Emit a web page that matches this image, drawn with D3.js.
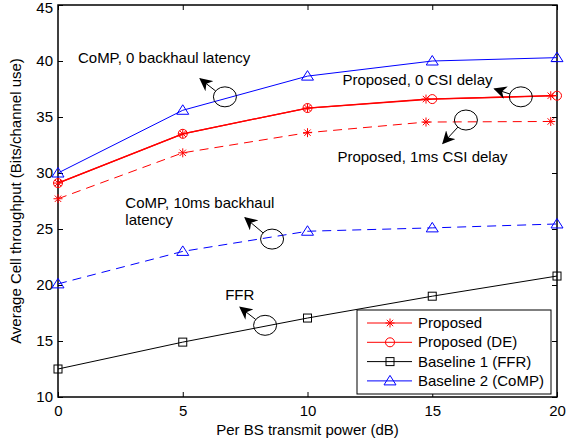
<!DOCTYPE html>
<html>
<head>
<meta charset="utf-8">
<script src="https://cdn.jsdelivr.net/npm/d3@7"></script>
<style>
  body { margin: 0; background: #fff; }
  text { font-family: "Liberation Sans", Arial, sans-serif; }
</style>
</head>
<body>
<div id="chart"></div>
<script>
// chart data
var xTicks = [0, 5, 10, 15, 20];
var yTicks = [10, 15, 20, 25, 30, 35, 40, 45];
var powerX = [0, 5, 10, 15, 20];
var proposedX = [0, 5, 10, 14.75, 19.75];   // star markers sit a bit left of the circles
var proposed = [29.1, 33.5, 35.8, 36.6, 36.9];
var proposedDE = [29.1, 33.5, 35.8, 36.6, 36.9];
var proposed1ms = [27.7, 31.8, 33.6, 34.55, 34.6];
var ffr = [12.5, 14.9, 17.05, 19.0, 20.8];
var comp0 = [30.0, 35.6, 38.65, 40.0, 40.3];
var comp10 = [20.1, 23.0, 24.8, 25.1, 25.45];
var legendNames = ["Proposed", "Proposed (DE)", "Baseline 1 (FFR)", "Baseline 2 (CoMP)"];

// callouts: text lines, text anchor point, ellipse centre, arrow tip (data units)
var callouts = [
  {lines: ["CoMP, 0 backhaul latency"], tx: 0.8, ty: 39.8, ex: 6.69, ey: 36.8, ax: 5.7, ay: 38.4},
  {lines: ["Proposed, 0 CSI delay"], tx: 11.4, ty: 37.9, ex: 18.55, ey: 36.8, ax: 17.5, ay: 37.5},
  {lines: ["Proposed, 1ms CSI delay"], tx: 11.2, ty: 30.98, ex: 16.35, ey: 34.73, ax: 15.43, ay: 32.65},
  {lines: ["CoMP, 10ms backhaul", "latency"], tx: 2.7, ty: 26.9, ex: 8.58, ey: 24.1, ax: 7.5, ay: 26.0},
  {lines: ["FFR"], tx: 6.7, ty: 18.7, ex: 8.3, ey: 16.4, ax: 7.3, ay: 18.0}
];

var margin = {top: 5, right: 23, bottom: 46, left: 58};
var width = 580 - margin.left - margin.right;
var height = 443 - margin.top - margin.bottom;
var fs = 15;

var svg = d3.select("#chart").append("svg")
  .attr("width", 580).attr("height", 443)
  .append("g")
  .attr("transform", "translate(" + margin.left + "," + margin.top + ")");

var x = d3.scaleLinear().domain([0, 20]).range([0, width]);
var y = d3.scaleLinear().domain([10, 45]).range([height, 0]);

//axes with inward ticks on all four sides
svg.append("g").attr("transform", "translate(0," + height + ")")
  .call(d3.axisBottom(x).tickValues(xTicks).tickSize(-5).tickPadding(8))
  .call(g => g.select(".domain").remove());
svg.append("g").attr("transform", "translate(0,0)")
  .call(d3.axisTop(x).tickValues(xTicks).tickSize(-5).tickFormat(""))
  .call(g => g.select(".domain").remove());
var yAxis = svg.append("g")
  .call(d3.axisLeft(y).tickValues(yTicks).tickSize(-5).tickPadding(5))
  .call(g => g.select(".domain").remove());
svg.append("g").attr("transform", "translate(" + width + ",0)")
  .call(d3.axisRight(y).tickValues(yTicks).tickSize(-5).tickFormat(""))
  .call(g => g.select(".domain").remove());

svg.selectAll(".tick text").attr("font-size", fs).attr("fill", "#000")
  .style("font-family", "'Liberation Sans', Arial, sans-serif");
svg.selectAll(".tick line").attr("stroke", "#000");
// keep the top label inside the page
yAxis.selectAll(".tick text").filter(d => d == 45).attr("dy", "0.5em");

svg.append("rect").attr("width", width).attr("height", height)
  .attr("fill", "none").attr("stroke", "#000").attr("stroke-width", 1.5);

//axis titles
svg.append("text").attr("x", width / 2).attr("y", height + 38)
  .attr("text-anchor", "middle").attr("font-size", fs)
  .text("Per BS transmit power (dB)");
svg.append("text").attr("transform", "translate(-37," + (height / 2) + ") rotate(-90)")
  .attr("text-anchor", "middle").attr("font-size", fs)
  .text("Average Cell throughput (Bits/channel use)");

//marker helpers
function drawMarker(g, type, cx, cy, color) {
  if (type == "star") {
    var s = 4.5;
    g.append("path")
      .attr("d", "M" + (cx - s) + "," + cy + "H" + (cx + s) +
                 "M" + cx + "," + (cy - s) + "V" + (cy + s) +
                 "M" + (cx - 3.2) + "," + (cy - 3.2) + "L" + (cx + 3.2) + "," + (cy + 3.2) +
                 "M" + (cx - 3.2) + "," + (cy + 3.2) + "L" + (cx + 3.2) + "," + (cy - 3.2))
      .attr("stroke", color).attr("stroke-width", 1).attr("fill", "none");
  } else if (type == "circle") {
    g.append("circle").attr("cx", cx).attr("cy", cy).attr("r", 4.5)
      .attr("stroke", color).attr("fill", "none").attr("stroke-width", 1);
  } else if (type == "square") {
    g.append("rect").attr("x", cx - 4).attr("y", cy - 4).attr("width", 8).attr("height", 8)
      .attr("stroke", color).attr("fill", "none").attr("stroke-width", 1);
  } else if (type == "triangle") {
    g.append("path")
      .attr("d", "M" + cx + "," + (cy - 5.5) + "L" + (cx + 6) + "," + (cy + 4) + "L" + (cx - 6) + "," + (cy + 4) + "Z")
      .attr("stroke", color).attr("fill", "none").attr("stroke-width", 1);
  }
}

var series = [
  {xs: powerX, ys: comp10, color: "#0000ff", dash: "9,6", marker: "triangle", w: 1},
  {xs: powerX, ys: ffr, color: "#000", dash: null, marker: "square", w: 1},
  {xs: proposedX, ys: proposed1ms, color: "#ff0000", dash: "9,6", marker: "star", w: 1},
  {xs: powerX, ys: comp0, color: "#0000ff", dash: null, marker: "triangle", w: 1},
  {xs: powerX, ys: proposedDE, color: "#ff0000", dash: null, marker: "circle", w: 1.3},
  {xs: proposedX, ys: proposed, color: "#ff0000", dash: null, marker: "star", w: 1.3}
];

var line = d3.line().x(d => x(d[0])).y(d => y(d[1]));
var plot = svg.append("g");
series.forEach(function(s) {
  var pts = s.xs.map((v, i) => [v, s.ys[i]]);
  plot.append("path").datum(pts).attr("d", line)
    .attr("fill", "none").attr("stroke", s.color).attr("stroke-width", s.w)
    .attr("stroke-dasharray", s.dash);
  pts.forEach(p => drawMarker(plot, s.marker, x(p[0]), y(p[1]), s.color));
});

//callouts: ellipse, arrow, label
svg.append("defs").append("marker")
  .attr("id", "arrow").attr("viewBox", "0 0 10 10").attr("refX", 9).attr("refY", 5)
  .attr("markerWidth", 13).attr("markerHeight", 13).attr("markerUnits", "userSpaceOnUse")
  .attr("orient", "auto")
  .append("path").attr("d", "M0,0 L10,5 L0,10 L3,5 Z").attr("fill", "#000");

callouts.forEach(function(c) {
  var ex = x(c.ex), ey = y(c.ey), ax = x(c.ax), ay = y(c.ay);
  svg.append("ellipse").attr("cx", ex).attr("cy", ey).attr("rx", 11.5).attr("ry", 10)
    .attr("fill", "none").attr("stroke", "#000").attr("stroke-width", 1);
  var ang = Math.atan2(ay - ey, ax - ex);
  var sx = ex + 11.5 * Math.cos(ang), sy = ey + 10 * Math.sin(ang);
  svg.append("line").attr("x1", sx).attr("y1", sy).attr("x2", ax).attr("y2", ay)
    .attr("stroke", "#000").attr("stroke-width", 1).attr("marker-end", "url(#arrow)");
  c.lines.forEach(function(t, i) {
    svg.append("text").attr("x", x(c.tx)).attr("y", y(c.ty) + i * 17)
      .attr("font-size", fs).attr("fill", "#000").text(t);
  });
});

//legend
var legendItems = [
  {color: "#ff0000", marker: "star"},
  {color: "#ff0000", marker: "circle"},
  {color: "#000", marker: "square"},
  {color: "#0000ff", marker: "triangle"}
];
var lg = svg.append("g").attr("transform", "translate(" + (width - 200) + "," + (height - 87) + ")");
lg.append("rect").attr("width", 194).attr("height", 84)
  .attr("fill", "#fff").attr("stroke", "#000").attr("stroke-width", 1);
legendNames.forEach(function(n, i) {
  var yy = 13 + i * 19.3;
  lg.append("line").attr("x1", 10).attr("x2", 55).attr("y1", yy).attr("y2", yy)
    .attr("stroke", legendItems[i].color).attr("stroke-width", 1);
  drawMarker(lg, legendItems[i].marker, 33, yy, legendItems[i].color);
  lg.append("text").attr("x", 61).attr("y", yy + 5).attr("font-size", fs).text(n);
});
</script>
</body>
</html>
